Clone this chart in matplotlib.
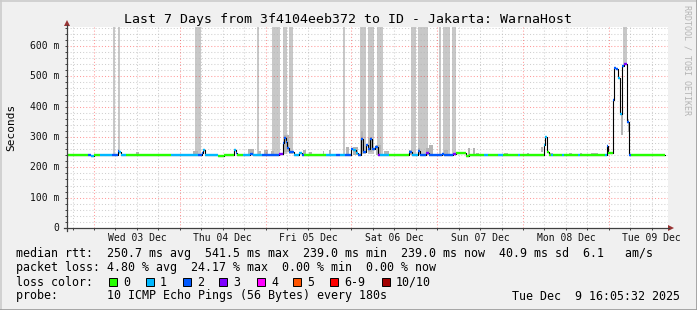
import matplotlib
matplotlib.use("Agg")
import matplotlib.pyplot as plt
from matplotlib.lines import Line2D
from matplotlib.patches import Polygon, Rectangle
import numpy as np

# --- data (hours since Wed 03 Dec 00:00, rtt in ms) ---
seg_start = [-7.55, -1.68, -0.84, 0.0, 1.68, 5.03, 6.71, 7.13, 7.55, 8.95,
             21.54, 29.09, 30.21, 30.49, 31.19, 34.69, 36.36, 39.16, 39.72, 40.0,
             41.68, 43.64, 44.48, 46.99, 51.75, 52.78, 53.15, 53.57, 53.99, 54.41,
             54.83, 55.94, 57.34, 58.18, 58.74, 64.90, 67.69, 68.81, 70.21, 71.89,
             72.45, 73.29, 73.85, 74.69, 75.24, 76.08, 76.64, 77.20, 77.76, 78.60,
             79.44, 80.0, 82.52, 88.11, 88.95, 90.63, 91.19, 92.87, 93.71, 97.34,
             97.90, 100.42, 101.26, 104.06, 104.90, 109.09, 110.21, 113.01, 114.41, 118.60,
             119.16, 125.87, 126.29, 126.71, 127.27, 127.83, 128.39, 130.91, 131.47, 135.38,
             135.94, 142.94, 143.36, 143.78, 145.17, 145.59, 146.15, 146.71, 147.27, 147.83,
             148.39, 149.09, 149.65, 150.21]
seg_rtt = [241, 241, 239, 241, 241, 241, 254, 250, 241, 241,
           241, 241, 247, 256, 241, 237, 240, 258, 247, 241,
           241, 243, 241, 241, 243, 280, 296, 285, 265, 252,
           250, 241, 247, 241, 241, 241, 241, 241, 241, 262,
           258, 246, 241, 292, 250, 275, 260, 292, 262, 266,
           241, 241, 241, 250, 241, 255, 241, 248, 241, 244,
           241, 243, 246, 237, 241, 241, 241, 241, 241, 241,
           241, 274, 300, 250, 241, 241, 241, 241, 241, 241,
           241, 241, 270, 247, 422, 529, 524, 494, 376, 535,
           541, 351, 241, 241]
seg_loss = [0, 2, 1, 0, 1, 2, 2, 1, 1, 0,
            1, 2, 2, 1, 1, 0, 0, 1, 2, 0,
            1, 2, 1, 2, 3, 2, 2, 2, 2, 2,
            2, 1, 1, 2, 0, 1, 2, 1, 2, 2,
            1, 1, 2, 2, 2, 2, 2, 2, 2, 2,
            3, 1, 0, 2, 1, 2, 2, 3, 2, 2,
            2, 3, 0, 0, 0, 1, 0, 1, 0, 1,
            0, 1, 1, 0, 0, 1, 0, 1, 0, 1,
            0, 1, 2, 0, 2, 2, 2, 1, 1, 2,
            3, 2, 2, 0]
data_end = 159.72

# smoke reaching above the top of the graph
tall_start = [5.23, 6.63, 28.25, 45.51, 49.79, 52.78, 54.46, 69.79, 74.27, 76.64,
              79.08, 88.67, 90.55, 96.59, 97.54, 100.08, 147.89]
tall_end = [5.96, 7.36, 29.93, 46.15, 52.03, 53.85, 55.58, 70.35, 76.22, 78.41,
            80.76, 90.07, 93.34, 96.98, 99.58, 101.17, 149.17]
tall_low = [245] * 16 + [538]

# small smoke around the median
smoke_start = [11.75, 27.61, 42.99, 45.79, 47.64, 49.51, 53.23, 58.38, 60.14, 63.97,
               65.82, 70.49, 72.36, 74.69, 76.56, 77.34, 78.88, 81.20, 88.11, 90.55,
               92.87, 93.79, 97.99, 104.53, 105.93, 106.85, 114.77, 121.12, 125.03, 127.36,
               132.95, 135.94, 139.02, 145.09, 147.41, 149.29]
smoke_end = [12.50, 29.01, 44.84, 46.71, 48.59, 50.35, 54.63, 59.30, 60.98, 64.42,
             66.29, 71.24, 73.76, 75.33, 77.20, 77.90, 80.28, 82.60, 88.95, 91.27,
             93.62, 94.74, 98.94, 105.17, 106.49, 107.78, 115.72, 121.59, 125.68, 128.48,
             133.71, 136.64, 140.90, 145.54, 147.89, 149.73]
smoke_low = [241, 241, 241, 241, 241, 241, 250, 241, 241, 241,
             241, 241, 241, 250, 250, 250, 241, 241, 241, 241,
             241, 241, 241, 241, 241, 241, 241, 241, 250, 241,
             241, 241, 241, 403, 307, 317]
smoke_high = [252, 254, 260, 254, 257, 254, 307, 257, 252, 254,
              257, 268, 268, 320, 298, 301, 274, 254, 257, 264,
              264, 274, 257, 264, 263, 246, 248, 248, 268, 248,
              248, 248, 246, 422, 376, 360]

day_hours = [12, 36, 60, 84, 108, 132, 156]
day_labels = ["Wed 03 Dec", "Thu 04 Dec", "Fri 05 Dec", "Sat 06 Dec",
              "Sun 07 Dec", "Mon 08 Dec", "Tue 09 Dec"]
y_ticks = [0, 100, 200, 300, 400, 500, 600]

loss_names = ["0", "1", "2", "3", "4", "5", "6-9", "10/10"]
loss_colors = ["#26ff00", "#00b8ff", "#0059ff", "#7e00ff",
               "#ff00ff", "#ff5500", "#ff0000", "#a10000"]

title = "Last 7 Days from 3f4104eeb372 to ID - Jakarta: WarnaHost"
rtt_line = "median rtt:  250.7 ms avg  541.5 ms max  239.0 ms min  239.0 ms now  40.9 ms sd  6.1   am/s"
loss_line = "packet loss: 4.80 % avg  24.17 % max  0.00 % min  0.00 % now"
probe_line = "probe:       10 ICMP Echo Pings (56 Bytes) every 180s"
stamp = "Tue Dec  9 16:05:32 2025"

W, H = 697, 310
MONO = "DejaVu Sans Mono"


def fx(x):
    return x / W


def fy(y):
    return 1 - y / H


fig = plt.figure(figsize=(W / 100, H / 100), dpi=100)
fig.patch.set_facecolor("#f0f0f0")

# frame shading
fig.add_artist(Line2D([0, 1], [fy(0.5), fy(0.5)], color="#cbcbcb", lw=1.2))
fig.add_artist(Line2D([fx(0.5), fx(0.5)], [0, 1], color="#cbcbcb", lw=1.2))
fig.add_artist(Line2D([0, 1], [fy(309.5), fy(309.5)], color="#999999", lw=1.2))
fig.add_artist(Line2D([fx(696.5), fx(696.5)], [0, 1], color="#999999", lw=1.2))

xlim = (-7.55, 160.6)
ylim = (0, 662)
ax_w = (xlim[1] - xlim[0]) * 3.575
ax_h = ylim[1] * 0.30333
ax = fig.add_axes([fx(67), fy(228), ax_w / W, ax_h / H])
ax.set_facecolor("white")
ax.set_xlim(*xlim)
ax.set_ylim(*ylim)
for s in ax.spines.values():
    s.set_visible(False)

# smoke
for a, b, lo in zip(tall_start, tall_end, tall_low):
    ax.add_patch(Rectangle((a, lo), b - a, 800, color="#c8c8c8", lw=0, zorder=1))
for a, b, lo, hi in zip(smoke_start, smoke_end, smoke_low, smoke_high):
    ax.add_patch(Rectangle((a, lo), b - a, hi - lo, color="#b4b4b4", lw=0, zorder=1.5))

# grid
dot = (0, (1, 2))
for yv in range(20, 661, 20):
    major = yv % 100 == 0
    ax.axhline(yv, color="#ff0000" if major else "#b0b0b0",
               alpha=0.4 if major else 0.6, lw=0.75, ls=dot, zorder=2)
for xv in range(-6, 160, 6):
    major = xv % 24 == 0
    ax.axvline(xv, color="#ff0000" if major else "#b0b0b0",
               alpha=0.4 if major else 0.6, lw=0.75, ls=dot, zorder=2)

# median line: thin black step plus loss-coloured pieces
xs = np.append(seg_start, data_end)
ys = np.append(seg_rtt, seg_rtt[-1])
ax.step(xs, ys, where="post", color="black", lw=0.8, zorder=3)
ax.hlines(seg_rtt, seg_start, xs[1:], colors=[loss_colors[i] for i in seg_loss],
          lw=1.7, capstyle="butt", zorder=4)

# ticks
ax.set_xticks(np.arange(-6, 160, 6))
ax.set_yticks(np.arange(0, 661, 20))
ax.set_xticklabels([])
ax.set_yticklabels([])
ax.tick_params(length=1.5, width=0.7, color="#404040", direction="out")

for h, lab in zip(day_hours, day_labels):
    ax.text(h, -10 / ax_h, lab, transform=ax.get_xaxis_transform(),
            ha="center", va="center", family=MONO, size=7, color="#111111")
for v in y_ticks:
    ax.text(-8 / ax_w, v, "0" if v == 0 else f"{v} m", transform=ax.get_yaxis_transform(),
            ha="right", va="center", family=MONO, size=7, color="#111111")

# axis lines with arrows
axis_c = "#404040"
fig.add_artist(Line2D([fx(67), fx(67)], [fy(231), fy(25)], color=axis_c, lw=0.9))
fig.add_artist(Line2D([fx(64), fx(669)], [fy(228), fy(228)], color=axis_c, lw=0.9))
fig.add_artist(Polygon([(fx(64), fy(26)), (fx(70), fy(26)), (fx(67), fy(20))],
                       closed=True, color="#993333", lw=0))
fig.add_artist(Polygon([(fx(668), fy(225)), (fx(668), fy(231)), (fx(674), fy(228))],
                       closed=True, color="#993333", lw=0))

# texts
fig.text(fx(347.5), fy(19), title, ha="center", va="center", family=MONO, size=9.5)
fig.text(fx(11), fy(127), "Seconds", rotation=90, ha="center", va="center",
         family=MONO, size=8)
fig.text(fx(687), fy(60), "RRDTOOL / TOBI OETIKER", rotation=270, ha="center",
         va="center", family=MONO, size=6, color="#b4b4b4")

fs = 8.4
fig.text(fx(16), fy(254), rtt_line, va="center", family=MONO, size=fs)
fig.text(fx(16), fy(268), loss_line, va="center", family=MONO, size=fs)
fig.text(fx(16), fy(282), "loss color:", va="center", family=MONO, size=fs)
fig.text(fx(16), fy(296), probe_line, va="center", family=MONO, size=fs)
fig.text(fx(680), fy(296), stamp, ha="right", va="center", family=MONO, size=fs)

box_x = [109, 146, 183, 219, 257, 293, 330, 382]
for bx, name, col in zip(box_x, loss_names, loss_colors):
    fig.add_artist(Rectangle((fx(bx), fy(286)), 8 / W, 8 / H, facecolor=col,
                             edgecolor="black", lw=0.7))
    fig.text(fx(bx + 14), fy(282), name, va="center", family=MONO, size=fs)

fig.savefig("out.png", dpi=100, facecolor=fig.get_facecolor())
